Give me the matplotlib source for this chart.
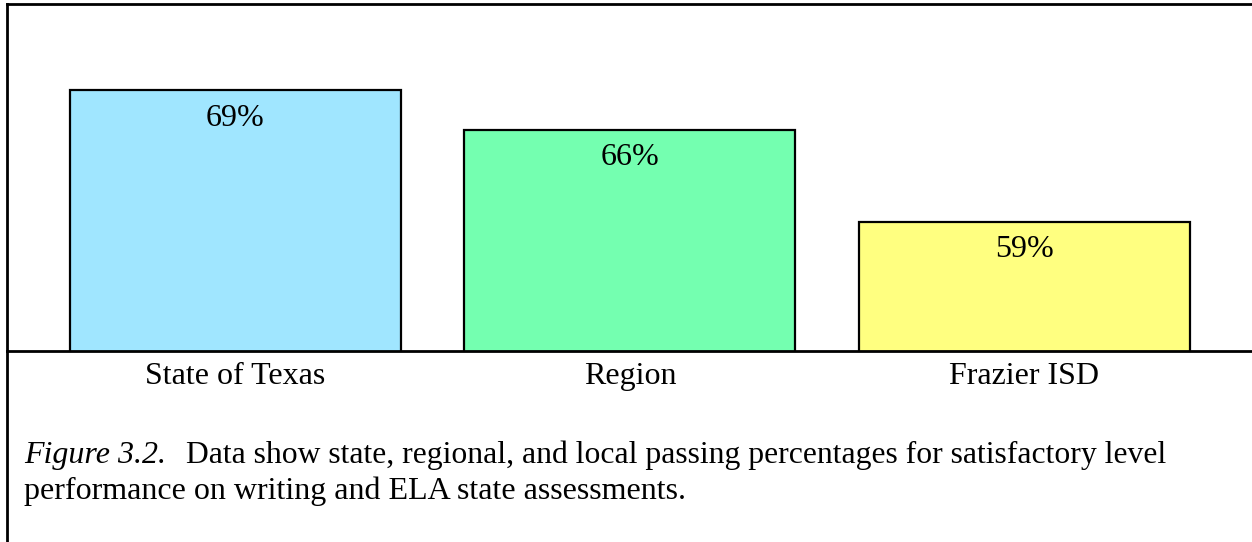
import matplotlib.pyplot as plt

# Données
categories = ['State of Texas', 'Region', 'Frazier ISD']
percentages = [69, 66, 59]
bar_colors = ['#A0E6FF', '#74FFB0', '#FFFF80']

caption_italic = 'Figure 3.2.'
caption_line1 = 'Data show state, regional, and local passing percentages for satisfactory level'
caption_line2 = 'performance on writing and ELA state assessments.'

plt.rcParams['font.family'] = ['Liberation Serif', 'DejaVu Serif']
fs = 23

fig = plt.figure(figsize=(12.52, 5.42), dpi=100)
ax = fig.add_axes([6.5 / 1252, (542 - 351) / 542, 1 - 6.5 / 1252, (351 - 3.5) / 542])

x = range(len(categories))
bars = ax.bar(x, percentages, width=0.839, color=bar_colors,
              edgecolor='black', linewidth=1.6)

ax.set_ylim(49.2, 75.6)
ax.set_xlim(-0.58, 2.577)

for xi, v in zip(x, percentages):
    ax.text(xi, v - 2.1, f'{v}%', ha='center', va='center', fontsize=fs)

ax.set_xticks(list(x))
ax.set_xticklabels(categories, fontsize=fs)
ax.tick_params(axis='x', length=0, pad=8)
ax.set_yticks([])

for side in ['left', 'top', 'bottom']:
    ax.spines[side].set_linewidth(2)
ax.spines['right'].set_visible(False)

# Bordure gauche de la figure jusqu'en bas
fig.add_artist(plt.Line2D([6.5 / 1252, 6.5 / 1252], [0, (542 - 351) / 542],
                          color='black', linewidth=2))

# Légende de la figure
fig.text(24 / 1252, 1 - 455 / 542, caption_italic, fontsize=fs, style='italic', va='center')
fig.text(186 / 1252, 1 - 455 / 542, caption_line1, fontsize=22.8, va='center')
fig.text(24 / 1252, 1 - 491 / 542, caption_line2, fontsize=fs, va='center')

plt.savefig('out.png', dpi=100)
plt.close()
